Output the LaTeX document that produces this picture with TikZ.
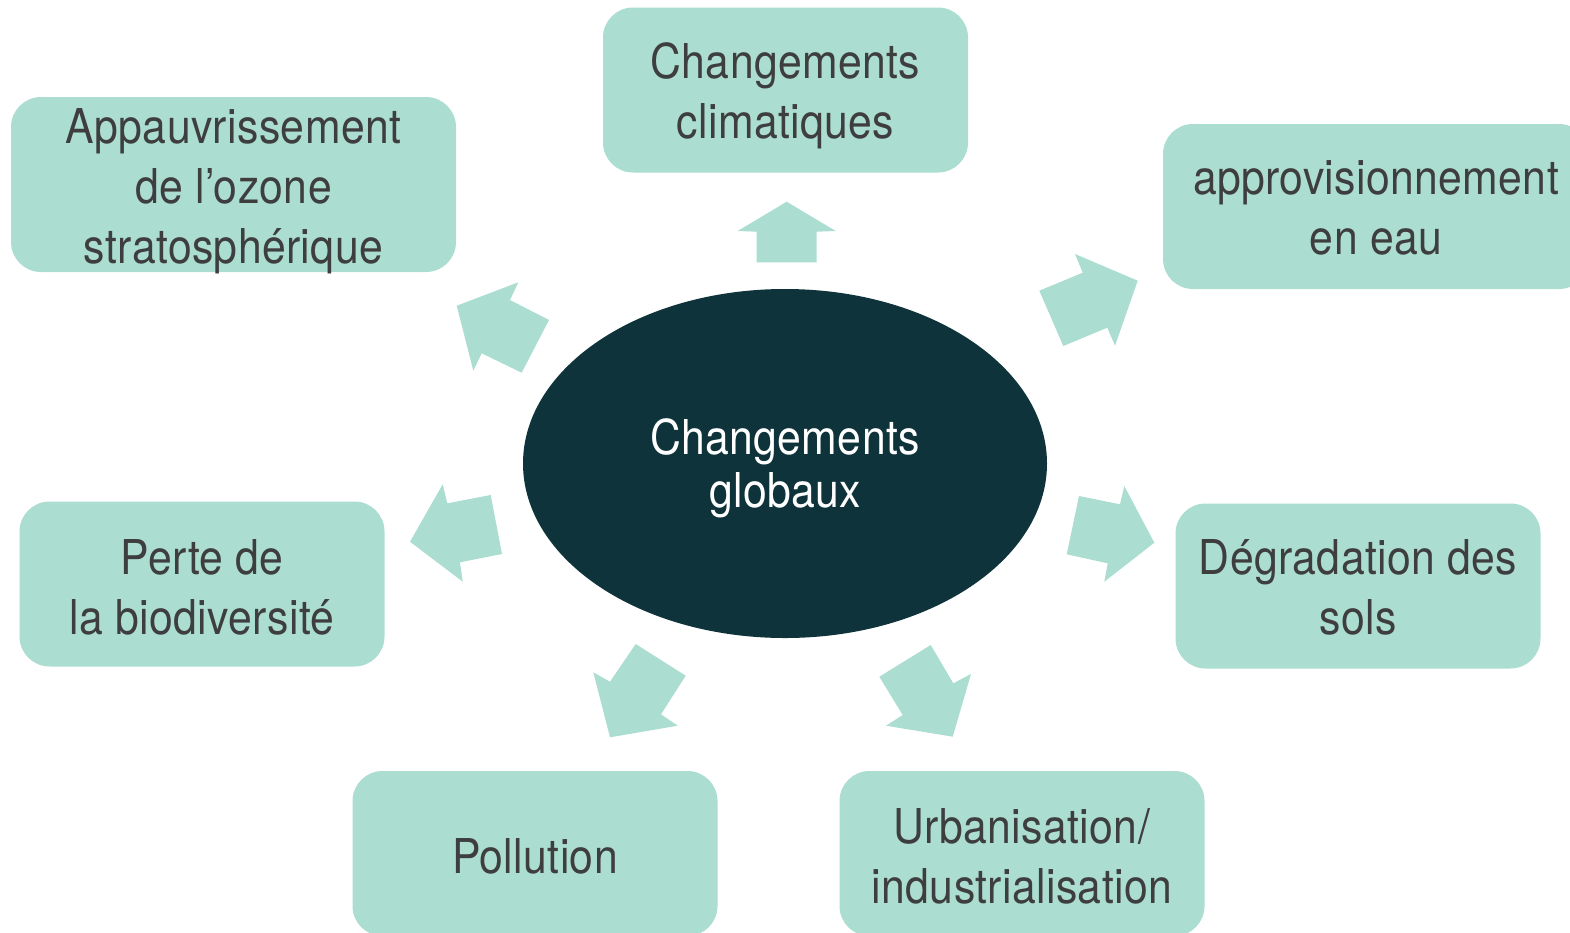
\documentclass[tikz,border=0pt]{standalone}
\usepackage{fontspec}
\setmainfont{TeX Gyre Heros}[FakeStretch=0.89,LetterSpace=0.8]
\usetikzlibrary{shapes.geometric}
\definecolor{mint}{HTML}{ABDDD0}
\definecolor{deep}{HTML}{0F333A}
\definecolor{txt}{HTML}{3E3E3E}
\begin{document}
\begin{tikzpicture}[x=1pt,y=-1pt,
  box/.style={fill=mint, rounded corners=30pt, inner sep=0pt,
    minimum width=365pt, minimum height=165pt},
  boxtext/.style={text=txt, align=center, inner sep=0pt,
    font=\fontsize{48}{60}\selectfont},
  blockarrow/.style={fill=mint}]
\useasboundingbox (0,0) rectangle (1570,932);
\clip (0,0) rectangle (1570,932);

% central ellipse
\node[ellipse, fill=deep, inner sep=0pt,
  minimum width=524pt, minimum height=349pt] (centre) at (785,463.5) {};
\node[boxtext, text=white, font=\fontsize{48}{53}\selectfont]
  at ([yshift=-4.5pt]centre.center) {Changements\\globaux};

% boxes
\node[box] (clim) at (785.5,90) {};
\node[boxtext] at ([yshift=-5.5pt]clim.center) {Changements\\climatiques};
\node[box, minimum width=445pt, minimum height=175pt] (ozone) at (233.5,184.5) {};
\node[boxtext] at ([yshift=-6.5pt]ozone.center) {Appauvrissement\\de l’ozone\\stratosphérique};
\node[box, minimum width=426pt] (eau) at (1376,206.5) {};
\node[boxtext] at ([yshift=-1.5pt]eau.center) {approvisionnement\\en eau};
\node[box] (bio) at (202,584) {};
\node[boxtext] at ([yshift=-3pt]bio.center) {Perte de\\la biodiversité};
\node[box] (sols) at (1358,586) {};
\node[boxtext] at ([yshift=-1.5pt]sols.center) {Dégradation des\\sols};
\node[box] (poll) at (535,853.5) {};
\node[boxtext] at ([yshift=-3pt]poll.center) {Pollution};
\node[box] (urb) at (1022,853.5) {};
\node[boxtext] at ([yshift=-2.5pt]urb.center) {Urbanisation/\\industrialisation};

% block arrows
\fill[blockarrow] (786.7,201.7) -- (835.7,231) -- (816.7,231.7) -- (816.7,262.3)
  -- (756.7,262.3) -- (756.7,231.7) -- (737.7,231) -- cycle;
\fill[blockarrow] (456.7,305.7) -- (518.3,282.3) -- (510,300) -- (549,320)
  -- (521.7,372.7) -- (481.7,353.3) -- (473.3,370.7) -- cycle;
\fill[blockarrow] (1137.7,280.7) -- (1115,345.7) -- (1107.3,327.7) -- (1063.3,346)
  -- (1039.3,290.7) -- (1082.7,272.7) -- (1075,254) -- cycle;
\fill[blockarrow] (410,541.7) -- (442.7,484.3) -- (447.3,503.3) -- (490.7,495)
  -- (502,554) -- (460,562.3) -- (462.7,581.7) -- cycle;
\fill[blockarrow] (1154.3,542.7) -- (1104.3,581.7) -- (1107.7,563.3) -- (1066.7,554.3)
  -- (1079,496) -- (1120,504.3) -- (1124.3,486) -- cycle;
\fill[blockarrow] (610,737.3) -- (593.3,672.3) -- (610,681.7) -- (635.7,644)
  -- (685.7,675.7) -- (661,714.3) -- (677.7,725.7) -- cycle;
\fill[blockarrow] (952.7,736.7) -- (886,725.7) -- (902.7,715) -- (879.3,676.7)
  -- (930.7,645) -- (953.3,683.3) -- (971,674) -- cycle;
\end{tikzpicture}
\end{document}
